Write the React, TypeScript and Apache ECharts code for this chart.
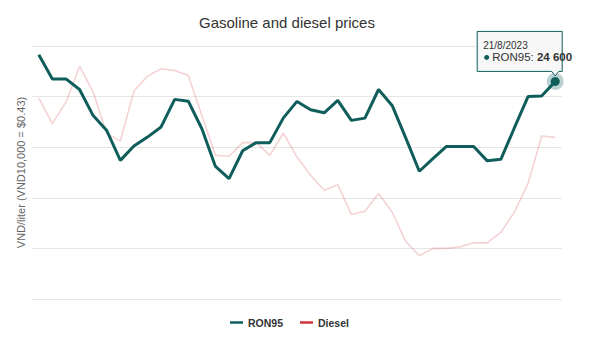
import React, { useEffect, useRef } from "react";
import * as echarts from "echarts";

const dates = [
  "1/8/2022", "11/8/2022", "21/8/2022", "1/9/2022", "11/9/2022", "21/9/2022",
  "1/10/2022", "11/10/2022", "21/10/2022", "1/11/2022", "11/11/2022", "21/11/2022",
  "1/12/2022", "11/12/2022", "21/12/2022", "1/1/2023", "11/1/2023", "21/1/2023",
  "1/2/2023", "11/2/2023", "21/2/2023", "1/3/2023", "11/3/2023", "21/3/2023",
  "1/4/2023", "11/4/2023", "21/4/2023", "1/5/2023", "11/5/2023", "21/5/2023",
  "1/6/2023", "11/6/2023", "21/6/2023", "1/7/2023", "11/7/2023", "21/7/2023",
  "1/8/2023", "11/8/2023", "21/8/2023",
];

const ron95 = [
  25650, 24700, 24700, 24280, 23250, 22660, 21480, 22050, 22400, 22800,
  23890, 23820, 22730, 21240, 20760, 21860, 22180, 22180, 23160, 23810,
  23480, 23360, 23850, 23060, 23150, 24280, 23650, 22370, 21050, 21550,
  22030, 22030, 22030, 21460, 21520, 22770, 24000, 24020, 24600,
];

const diesel = [
  23940, 22930, 23780, 25200, 24180, 22530, 22240, 24220, 24810, 25100,
  25030, 24830, 23250, 21680, 21640, 22180, 22180, 21680, 22560, 21610,
  20890, 20300, 20520, 19340, 19470, 20170, 19440, 18280, 17710, 18000,
  18000, 18060, 18220, 18220, 18630, 19440, 20560, 22440, 22390,
];

const yMin = 16000;
const yMax = 26000;
const yStep = 2000;

const FONT = "'Liberation Sans', Arial, sans-serif";
const TEAL = "#0f5e5c";
const RED = "#d0343a";

function fmt(v: number): string {
  return String(v).replace(/\B(?=(\d{3})+(?!\d))/g, " ");
}

export default function App() {
  const ref = useRef<HTMLDivElement>(null);

  useEffect(() => {
    if (!ref.current) return;
    const chart = echarts.init(ref.current, undefined, { renderer: "svg" });
    const lastIdx = ron95.length - 1;
    const lastVal = ron95[lastIdx];

    chart.setOption({
      animation: false,
      backgroundColor: "#ffffff",
      textStyle: { fontFamily: FONT },
      title: {
        text: "Gasoline and diesel prices",
        left: 194,
        top: 10,
        textStyle: { fontSize: 15, fontWeight: "normal", color: "#333333", fontFamily: FONT },
      },
      legend: {
        left: 225,
        top: 312,
        itemWidth: 13,
        itemHeight: 2.5,
        itemGap: 17,
        textStyle: { fontSize: 10.5, fontWeight: "bold", color: "#333333", fontFamily: FONT },
        data: [
          { name: "RON95", icon: "rect", itemStyle: { color: TEAL } },
          { name: "Diesel", icon: "rect", itemStyle: { color: RED } },
        ],
      },
      grid: { left: 32, right: 38, top: 46, bottom: 38 },
      xAxis: {
        type: "category",
        data: dates,
        boundaryGap: true,
        axisLine: { show: false },
        axisTick: { show: false },
        axisLabel: { show: false },
        splitLine: { show: false },
      },
      yAxis: {
        type: "value",
        min: yMin,
        max: yMax,
        interval: yStep,
        name: "VND/liter (VND10,000 = $0.43)",
        nameLocation: "middle",
        nameGap: 6,
        nameTextStyle: { fontSize: 11, color: "#666666", fontFamily: FONT },
        axisLine: { show: false },
        axisTick: { show: false },
        axisLabel: { show: false },
        splitLine: { show: true, lineStyle: { color: "#e6e6e6", width: 1 } },
      },
      series: [
        {
          name: "Diesel",
          type: "line",
          data: diesel,
          symbol: "none",
          showSymbol: false,
          itemStyle: { color: RED },
          lineStyle: { color: "rgba(208,52,58,0.22)", width: 1.6 },
          z: 2,
        },
        {
          name: "RON95",
          type: "line",
          data: ron95,
          symbol: "none",
          showSymbol: false,
          itemStyle: { color: TEAL },
          lineStyle: { color: TEAL, width: 3 },
          z: 3,
          markPoint: {
            silent: true,
            label: { show: false },
            data: [
              {
                coord: [lastIdx, lastVal],
                symbol: "circle",
                symbolSize: 17,
                itemStyle: { color: "rgba(15,94,92,0.28)" },
              },
              {
                coord: [lastIdx, lastVal],
                symbol: "circle",
                symbolSize: 9,
                itemStyle: { color: TEAL },
              },
            ],
          },
        },
      ],
    });

    const pt = chart.convertToPixel({ seriesIndex: 1 }, [lastIdx, lastVal]) as number[];
    if (pt) {
      const px = pt[0];
      const py = pt[1];
      const L = px - 78;
      const R = px + 7;
      const T = py - 50;
      const B = py - 10;
      chart.setOption({
        graphic: [
          {
            type: "polygon",
            z: 100,
            shape: {
              points: [
                [L, T], [R, T], [R, B], [px + 3.5, B], [px, py - 5.5], [px - 3.5, B], [L, B],
              ],
            },
            style: { fill: "rgba(247,247,247,0.95)", stroke: TEAL, lineWidth: 1 },
          },
          {
            type: "text",
            z: 101,
            x: L + 6,
            y: T + 9,
            style: { text: dates[lastIdx], fontSize: 10, fill: "#333333", fontFamily: FONT },
          },
          {
            type: "circle",
            z: 101,
            shape: { cx: L + 9.5, cy: T + 26, r: 2.5 },
            style: { fill: TEAL },
          },
          {
            type: "text",
            z: 101,
            x: L + 15,
            y: T + 19.5,
            style: {
              text: "{n|RON95: }{b|" + fmt(lastVal) + "}",
              fontFamily: FONT,
              rich: {
                n: { fontSize: 11.5, fill: "#333333", fontFamily: FONT },
                b: { fontSize: 11.5, fontWeight: "bold", fill: "#333333", fontFamily: FONT },
              },
            },
          },
        ],
      });
    }

    return () => chart.dispose();
  }, []);

  return (
    <div
      ref={ref}
      style={{ position: "absolute", left: 0, top: 0, width: 600, height: 337 }}
    />
  );
}
